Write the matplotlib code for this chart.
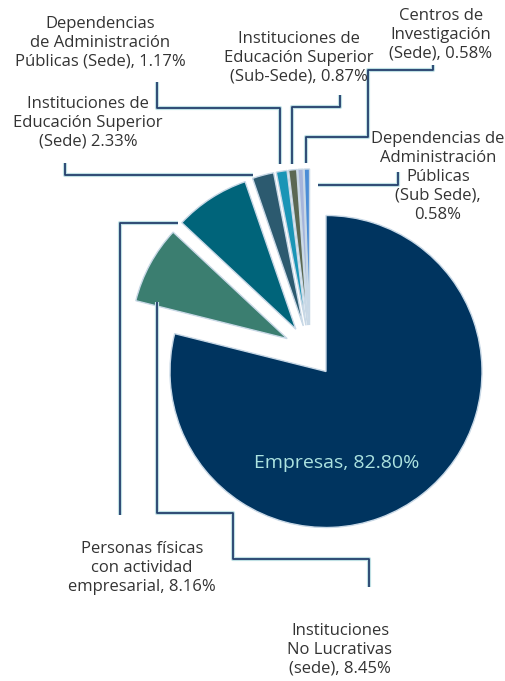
import numpy as np
import matplotlib.pyplot as plt
import matplotlib.patheffects as pe

# shares by type of institution, clockwise from 12 o'clock
values = [82.80, 8.45, 8.16, 2.33, 1.17, 0.87, 0.58, 0.58]
label_fmt = [
    "Empresas, {:.2f}%",
    "Instituciones\nNo Lucrativas\n(sede), {:.2f}%",
    "Personas físicas\ncon actividad\nempresarial, {:.2f}%",
    "Instituciones de\nEducación Superior\n(Sede) {:.2f}%",
    "Dependencias\nde Administración\nPúblicas (Sede), {:.2f}%",
    "Instituciones de\nEducación Superior\n(Sub-Sede), {:.2f}%",
    "Centros de\nInvestigación\n(Sede), {:.2f}%",
    "Dependencias de\nAdministración\nPúblicas\n(Sub Sede),\n{:.2f}%",
]
colors = ["#00345f", "#3b7e70", "#00647a", "#2c5a6f",
          "#1a95b6", "#5b6852", "#a6b5db", "#4a8dd6"]

W, H = 506, 681


def px(x, y):
    # image-style coordinates (y down) -> data coordinates
    return x, H - y


fig = plt.figure(figsize=(W / 100, H / 100), dpi=100)
ax = fig.add_axes([0, 0, 1, 1])

cx, cy = px(310, 351)
R = 156
wedges, _ = ax.pie(values, colors=colors, startangle=90, counterclock=False,
                   explode=[26] * len(values), radius=R, center=(cx, cy),
                   wedgeprops=dict(edgecolor="#c8d8e6", linewidth=1.0))
ax.set_xlim(0, W)
ax.set_ylim(0, H)
ax.set_aspect("equal")
ax.axis("off")


def edge_point(w, where, frac):
    # point on a wedge: along its bisector or one of its straight edges
    ang = {"mid": 0.5 * (w.theta1 + w.theta2), "t1": w.theta1, "t2": w.theta2}[where]
    a = np.radians(ang)
    x0, y0 = w.center
    return x0 + frac * w.r * np.cos(a), y0 + frac * w.r * np.sin(a)


# leader routes: anchor on wedge + offset, then vertical/horizontal moves (px)
routes = {
    1: (("t2", 0.86), (0, -4), [("v", 513), ("h", 233), ("v", 559), ("h", 369), ("v", 587)]),
    2: (("t2", 1.0), (-4, 0), [("h", 120), ("v", 515)]),
    3: (("mid", 1.0), (-10, 0), [("h", 65), ("v", 163)]),
    4: (("mid", 1.05), (0, 0), [("v", 108), ("h", 157), ("v", 82)]),
    5: (("mid", 1.04), (0, 0), [("v", 107), ("h", 340), ("v", 95)]),
    6: (("mid", 1.04), (6, 0), [("v", 137), ("h", 368), ("v", 70), ("h", 433), ("v", 65)]),
    7: (("t1", 0.9), (8, 0), [("h", 398), ("v", 172)]),
}
line_fx = [pe.Stroke(linewidth=3.0, foreground="#bfe0e4"), pe.Normal()]
for i, (anchor, (dx, dy), moves) in routes.items():
    x, y = edge_point(wedges[i], *anchor)
    x, y = x + dx, y - dy
    xs, ys = [x], [y]
    for kind, v in moves:
        if kind == "v":
            y = H - v
        else:
            x = v
        xs.append(x)
        ys.append(y)
    ax.plot(xs, ys, color="#233f6c", lw=1.3, solid_capstyle="butt",
            path_effects=line_fx, zorder=1)

label_pos = {
    1: (340, 650),
    2: (142, 568),
    3: (88, 123),
    4: (100, 43),
    5: (299, 58),
    6: (441, 35),
    7: (438, 177),
}
for i, (lx, ly) in label_pos.items():
    ax.text(*px(lx, ly), label_fmt[i].format(values[i]), ha="center", va="center",
            fontsize=12, family="Open Sans", color="#333333", linespacing=1.24)

ax.text(*px(337, 463), label_fmt[0].format(values[0]), ha="center", va="center",
        fontsize=14, family="Open Sans", color="#ade3e0")

fig.savefig("out.png", dpi=100)
